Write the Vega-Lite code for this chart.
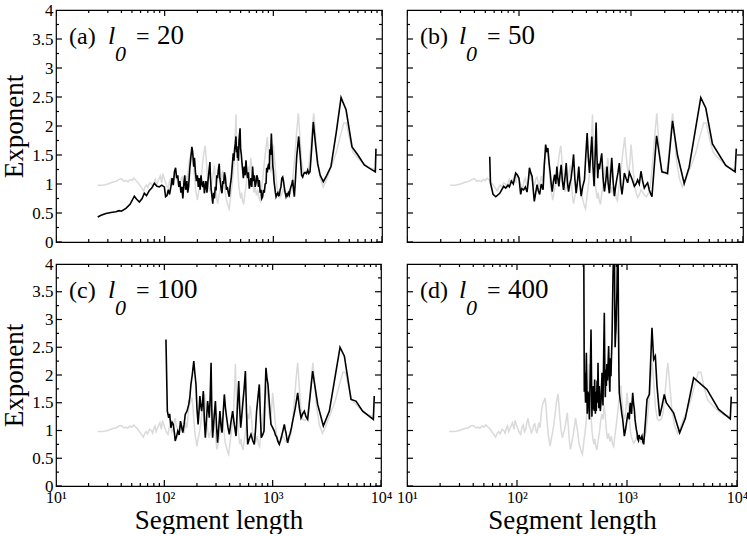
{
"$schema": "https://vega.github.io/schema/vega-lite/v6.json",
"padding": {"left": 0, "top": 0, "right": 4, "bottom": 0},
"config": {
  "view": {"stroke": "black", "strokeWidth": 1.2},
  "font": "Liberation Serif",
  "axis": {"ticks": false, "tickSize": 0, "offset": 0, "labelFont": "Liberation Serif", "titleFont": "Liberation Serif", "titleFontWeight": "normal", "labelColor": "black", "titleColor": "black", "domain": false, "grid": false, "labelOverlap": false, "labelFlush": false, "titleFontSize": 27},
  "tick": {"thickness": 1.2, "color": "black", "opacity": 1},
  "text": {"font": "Liberation Serif", "color": "black"}
},
"datasets": {
"yt": [{"v":0,"k":"major"},{"v":0.25,"k":"minor"},{"v":0.5,"k":"major"},{"v":0.75,"k":"minor"},{"v":1,"k":"major"},{"v":1.25,"k":"minor"},{"v":1.5,"k":"major"},{"v":1.75,"k":"minor"},{"v":2,"k":"major"},{"v":2.25,"k":"minor"},{"v":2.5,"k":"major"},{"v":2.75,"k":"minor"},{"v":3,"k":"major"},{"v":3.25,"k":"minor"},{"v":3.5,"k":"major"},{"v":3.75,"k":"minor"},{"v":4,"k":"major"}],
"xt": [{"v":10,"k":"major"},{"v":20,"k":"minor"},{"v":30,"k":"minor"},{"v":40,"k":"minor"},{"v":50,"k":"minor"},{"v":60,"k":"minor"},{"v":70,"k":"minor"},{"v":80,"k":"minor"},{"v":90,"k":"minor"},{"v":100,"k":"major"},{"v":200,"k":"minor"},{"v":300,"k":"minor"},{"v":400,"k":"minor"},{"v":500,"k":"minor"},{"v":600,"k":"minor"},{"v":700,"k":"minor"},{"v":800,"k":"minor"},{"v":900,"k":"minor"},{"v":1000,"k":"major"},{"v":2000,"k":"minor"},{"v":3000,"k":"minor"},{"v":4000,"k":"minor"},{"v":5000,"k":"minor"},{"v":6000,"k":"minor"},{"v":7000,"k":"minor"},{"v":8000,"k":"minor"},{"v":9000,"k":"minor"},{"v":10000,"k":"major"}],
"gray": [
{"len":24.2,"exp":0.98},{"len":27,"exp":0.98},{"len":30,"exp":1.0},{"len":33,"exp":1.03},{"len":36,"exp":1.05},{"len":38,"exp":1.08},{"len":40,"exp":1.09},{"len":42,"exp":1.05},{"len":44,"exp":1.06},{"len":46,"exp":1.04},{"len":48,"exp":1.08},{"len":50,"exp":1.06},{"len":52,"exp":1.1},{"len":54,"exp":1.07},{"len":56,"exp":1.04},{"len":58,"exp":1.0},{"len":60,"exp":0.96},{"len":62,"exp":0.92},{"len":64,"exp":0.88},{"len":66,"exp":0.95},{"len":68,"exp":0.98},{"len":70,"exp":0.94},{"len":73,"exp":1.02},{"len":76,"exp":1.0},{"len":78,"exp":0.95},{"len":80,"exp":1.04},{"len":82,"exp":1.08},{"len":84,"exp":0.98},{"len":86,"exp":1.03},{"len":89,"exp":1.1},{"len":91,"exp":1.14},{"len":94,"exp":1.02},{"len":96,"exp":1.18},{"len":99,"exp":1.1},{"len":101,"exp":1.05},{"len":105,"exp":0.96},{"len":108,"exp":0.93},{"len":111,"exp":1.06},{"len":114,"exp":1.1},{"len":117,"exp":0.98},{"len":120,"exp":1.02},{"len":123,"exp":1.15},{"len":126,"exp":1.22},{"len":129,"exp":1.08},{"len":132,"exp":1.05},{"len":135,"exp":0.96},{"len":138,"exp":0.99},{"len":142,"exp":1.1},{"len":145,"exp":1.12},{"len":149,"exp":1.0},{"len":152,"exp":0.95},{"len":155,"exp":1.05},{"len":158,"exp":1.14},{"len":162,"exp":1.05},{"len":166,"exp":1.3},{"len":170,"exp":1.45},{"len":173,"exp":1.5},{"len":177,"exp":1.55},{"len":180,"exp":1.59},{"len":184,"exp":1.4},{"len":187,"exp":1.2},{"len":190,"exp":1.05},{"len":193,"exp":0.9},{"len":197,"exp":0.8},{"len":200,"exp":0.72},{"len":205,"exp":0.85},{"len":210,"exp":0.95},{"len":216,"exp":1.1},{"len":222,"exp":1.3},{"len":228,"exp":1.5},{"len":236,"exp":1.66},{"len":241,"exp":1.45},{"len":246,"exp":1.2},{"len":252,"exp":1.0},{"len":258,"exp":0.87},{"len":264,"exp":0.95},{"len":270,"exp":1.0},{"len":278,"exp":1.15},{"len":287,"exp":1.32},{"len":292,"exp":1.1},{"len":297,"exp":0.9},{"len":302,"exp":0.75},{"len":307,"exp":0.66},{"len":315,"exp":0.78},{"len":323,"exp":0.9},{"len":332,"exp":1.05},{"len":341,"exp":1.23},{"len":348,"exp":1.1},{"len":355,"exp":1.0},{"len":360,"exp":0.88},{"len":365,"exp":0.78},{"len":372,"exp":0.72},{"len":380,"exp":0.65},{"len":387,"exp":0.6},{"len":393,"exp":0.57},{"len":400,"exp":0.7},{"len":408,"exp":0.85},{"len":415,"exp":0.95},{"len":425,"exp":1.15},{"len":436,"exp":1.38},{"len":445,"exp":1.8},{"len":453,"exp":2.2},{"len":460,"exp":1.7},{"len":470,"exp":1.3},{"len":480,"exp":1.0},{"len":490,"exp":0.85},{"len":500,"exp":0.75},{"len":510,"exp":0.85},{"len":520,"exp":0.72},{"len":533,"exp":0.65},{"len":545,"exp":0.8},{"len":560,"exp":0.95},{"len":575,"exp":1.15},{"len":590,"exp":1.3},{"len":605,"exp":1.2},{"len":620,"exp":1.45},{"len":635,"exp":1.26},{"len":650,"exp":1.0},{"len":665,"exp":0.85},{"len":680,"exp":0.95},{"len":700,"exp":0.8},{"len":720,"exp":0.9},{"len":740,"exp":0.75},{"len":757,"exp":0.71},{"len":775,"exp":0.9},{"len":800,"exp":1.1},{"len":820,"exp":1.3},{"len":840,"exp":1.5},{"len":860,"exp":1.65},{"len":880,"exp":1.81},{"len":900,"exp":1.55},{"len":925,"exp":1.3},{"len":950,"exp":1.2},{"len":975,"exp":1.35},{"len":1000,"exp":1.68},{"len":1020,"exp":1.5},{"len":1050,"exp":1.2},{"len":1080,"exp":0.95},{"len":1110,"exp":0.85},{"len":1149,"exp":0.77},{"len":1190,"exp":0.82},{"len":1230,"exp":0.9},{"len":1280,"exp":0.85},{"len":1330,"exp":0.8},{"len":1380,"exp":0.78},{"len":1430,"exp":0.85},{"len":1480,"exp":0.95},{"len":1530,"exp":1.2},{"len":1580,"exp":1.5},{"len":1640,"exp":1.9},{"len":1700,"exp":2.22},{"len":1760,"exp":1.8},{"len":1820,"exp":1.4},{"len":1890,"exp":1.2},{"len":1960,"exp":1.18},{"len":2040,"exp":1.2},{"len":2120,"exp":1.3},{"len":2200,"exp":1.6},{"len":2280,"exp":1.95},{"len":2350,"exp":2.22},{"len":2430,"exp":1.9},{"len":2550,"exp":1.4},{"len":2700,"exp":1.1},{"len":2880,"exp":0.95},{"len":3050,"exp":1.05},{"len":3250,"exp":1.2},{"len":3500,"exp":1.35},{"len":3800,"exp":1.55},{"len":4100,"exp":1.8},{"len":4450,"exp":2.05},{"len":4700,"exp":2.05},{"len":5000,"exp":1.8},{"len":5400,"exp":1.55},{"len":6000,"exp":1.45},{"len":6800,"exp":1.35},{"len":7600,"exp":1.28},{"len":8700,"exp":1.25}
],
"a": [
{"len":24.2,"exp":0.43},{"len":26,"exp":0.46},{"len":28.8,"exp":0.49},{"len":32,"exp":0.51},{"len":35.6,"exp":0.52},{"len":38,"exp":0.54},{"len":40,"exp":0.53},{"len":44,"exp":0.58},{"len":48,"exp":0.65},{"len":52.6,"exp":0.79},{"len":55,"exp":0.74},{"len":58.5,"exp":0.69},{"len":62,"exp":0.75},{"len":65,"exp":0.84},{"len":68,"exp":0.8},{"len":72.3,"exp":0.89},{"len":76,"exp":0.93},{"len":80.4,"exp":1.01},{"len":85,"exp":0.96},{"len":89.3,"exp":0.95},{"len":94,"exp":0.98},{"len":99.3,"exp":0.95},{"len":102,"exp":0.78},{"len":105,"exp":0.8},{"len":108,"exp":0.9},{"len":111,"exp":0.82},{"len":114,"exp":0.95},{"len":117,"exp":1.1},{"len":120,"exp":0.98},{"len":123,"exp":1.21},{"len":126,"exp":1.28},{"len":129,"exp":1.1},{"len":132,"exp":1.15},{"len":135,"exp":0.95},{"len":138,"exp":1.05},{"len":141,"exp":0.85},{"len":144,"exp":0.95},{"len":147,"exp":0.75},{"len":150,"exp":1.0},{"len":153,"exp":1.15},{"len":156,"exp":0.9},{"len":160,"exp":1.05},{"len":163,"exp":0.85},{"len":166,"exp":0.95},{"len":170,"exp":1.25},{"len":174,"exp":1.45},{"len":178,"exp":1.64},{"len":181,"exp":1.55},{"len":185,"exp":1.3},{"len":188,"exp":1.45},{"len":192,"exp":1.2},{"len":196,"exp":1.05},{"len":200,"exp":1.15},{"len":204,"exp":0.95},{"len":208,"exp":1.1},{"len":212,"exp":0.9},{"len":216,"exp":1.15},{"len":220,"exp":1.0},{"len":224,"exp":0.95},{"len":228,"exp":1.05},{"len":232,"exp":0.84},{"len":236,"exp":0.95},{"len":240,"exp":1.05},{"len":245,"exp":0.85},{"len":249,"exp":1.01},{"len":255,"exp":1.2},{"len":261,"exp":1.38},{"len":264,"exp":1.1},{"len":268,"exp":0.9},{"len":272,"exp":0.8},{"len":277,"exp":0.66},{"len":282,"exp":0.85},{"len":287,"exp":0.75},{"len":292,"exp":0.95},{"len":297,"exp":0.89},{"len":302,"exp":1.15},{"len":307,"exp":1.1},{"len":312,"exp":1.25},{"len":318,"exp":1.35},{"len":322,"exp":1.1},{"len":327,"exp":1.0},{"len":332,"exp":0.9},{"len":337,"exp":0.84},{"len":343,"exp":1.05},{"len":349,"exp":1.0},{"len":355,"exp":1.2},{"len":362,"exp":1.12},{"len":370,"exp":0.9},{"len":377,"exp":0.95},{"len":385,"exp":0.85},{"len":393,"exp":0.78},{"len":400,"exp":0.95},{"len":410,"exp":1.1},{"len":418,"exp":1.3},{"len":428,"exp":1.53},{"len":434,"exp":1.4},{"len":440,"exp":1.6},{"len":447,"exp":1.7},{"len":453,"exp":1.82},{"len":458,"exp":1.55},{"len":463,"exp":1.65},{"len":468,"exp":1.45},{"len":473,"exp":1.59},{"len":478,"exp":1.4},{"len":483,"exp":1.75},{"len":494,"exp":1.96},{"len":500,"exp":1.6},{"len":508,"exp":1.5},{"len":515,"exp":1.35},{"len":522,"exp":1.24},{"len":530,"exp":1.1},{"len":540,"exp":1.3},{"len":550,"exp":1.15},{"len":560,"exp":1.41},{"len":570,"exp":1.2},{"len":580,"exp":1.1},{"len":590,"exp":1.2},{"len":601,"exp":0.92},{"len":611,"exp":1.0},{"len":622,"exp":1.1},{"len":633,"exp":0.95},{"len":645,"exp":1.3},{"len":656,"exp":1.05},{"len":668,"exp":1.15},{"len":680,"exp":0.95},{"len":692,"exp":1.01},{"len":705,"exp":1.15},{"len":718,"exp":1.1},{"len":730,"exp":0.95},{"len":743,"exp":1.07},{"len":756,"exp":0.85},{"len":770,"exp":0.9},{"len":783,"exp":0.75},{"len":797,"exp":0.78},{"len":811,"exp":0.9},{"len":826,"exp":0.85},{"len":841,"exp":1.0},{"len":857,"exp":1.01},{"len":868,"exp":1.28},{"len":880,"exp":1.2},{"len":893,"exp":1.3},{"len":906,"exp":1.35},{"len":918,"exp":1.25},{"len":930,"exp":1.6},{"len":944,"exp":1.5},{"len":959,"exp":1.87},{"len":970,"exp":1.65},{"len":980,"exp":1.5},{"len":990,"exp":1.3},{"len":1000,"exp":1.24},{"len":1015,"exp":1.05},{"len":1030,"exp":0.95},{"len":1045,"exp":0.85},{"len":1059,"exp":0.78},{"len":1080,"exp":0.82},{"len":1100,"exp":0.85},{"len":1118,"exp":0.8},{"len":1136,"exp":0.81},{"len":1155,"exp":0.9},{"len":1175,"exp":0.95},{"len":1197,"exp":1.1},{"len":1219,"exp":1.12},{"len":1240,"exp":1.05},{"len":1260,"exp":0.95},{"len":1285,"exp":0.85},{"len":1309,"exp":0.78},{"len":1330,"exp":0.82},{"len":1350,"exp":0.8},{"len":1375,"exp":0.85},{"len":1403,"exp":0.81},{"len":1425,"exp":0.9},{"len":1450,"exp":0.95},{"len":1480,"exp":1.0},{"len":1507,"exp":1.07},{"len":1535,"exp":0.9},{"len":1561,"exp":0.78},{"len":1600,"exp":1.1},{"len":1641,"exp":1.47},{"len":1711,"exp":1.82},{"len":1780,"exp":1.4},{"len":1820,"exp":1.15},{"len":1862,"exp":1.12},{"len":1910,"exp":1.18},{"len":1960,"exp":1.2},{"len":2020,"exp":1.18},{"len":2071,"exp":1.24},{"len":2120,"exp":1.18},{"len":2175,"exp":1.21},{"len":2250,"exp":1.6},{"len":2333,"exp":2.07},{"len":2440,"exp":1.7},{"len":2558,"exp":1.35},{"len":2700,"exp":1.15},{"len":2884,"exp":1.04},{"len":3100,"exp":1.15},{"len":3390,"exp":1.3},{"len":3800,"exp":1.9},{"len":4200,"exp":2.49},{"len":4670,"exp":2.28},{"len":5300,"exp":1.64},{"len":6000,"exp":1.5},{"len":6870,"exp":1.33},{"len":7700,"exp":1.27},{"len":8680,"exp":1.21},{"len":8800,"exp":1.61}
],
"b": [
{"len":54.8,"exp":1.47},{"len":55.6,"exp":1.02},{"len":58.7,"exp":0.82},{"len":62,"exp":0.78},{"len":67.3,"exp":0.84},{"len":73,"exp":0.96},{"len":76,"exp":0.93},{"len":79.8,"exp":0.98},{"len":82,"exp":0.95},{"len":85.5,"exp":1.05},{"len":89,"exp":1.0},{"len":93.4,"exp":1.19},{"len":97,"exp":1.15},{"len":100,"exp":1.1},{"len":103.5,"exp":0.82},{"len":106,"exp":0.92},{"len":110,"exp":0.9},{"len":114,"exp":0.95},{"len":118,"exp":0.86},{"len":121,"exp":1.05},{"len":124,"exp":1.28},{"len":127,"exp":1.2},{"len":131,"exp":1.13},{"len":134,"exp":0.9},{"len":137,"exp":0.7},{"len":141,"exp":0.85},{"len":145,"exp":0.99},{"len":149,"exp":0.88},{"len":153,"exp":0.82},{"len":158,"exp":1.0},{"len":164,"exp":0.9},{"len":168,"exp":1.3},{"len":173,"exp":1.68},{"len":177,"exp":1.55},{"len":181,"exp":1.62},{"len":186,"exp":1.35},{"len":190,"exp":1.19},{"len":194,"exp":1.0},{"len":198,"exp":0.87},{"len":203,"exp":1.05},{"len":208,"exp":1.16},{"len":213,"exp":1.0},{"len":218,"exp":1.3},{"len":222,"exp":1.1},{"len":227,"exp":0.96},{"len":232,"exp":1.15},{"len":238,"exp":1.33},{"len":244,"exp":1.05},{"len":250,"exp":0.9},{"len":257,"exp":1.1},{"len":264,"exp":1.36},{"len":270,"exp":1.05},{"len":277,"exp":0.87},{"len":284,"exp":1.0},{"len":292,"exp":1.1},{"len":300,"exp":1.3},{"len":307,"exp":1.51},{"len":315,"exp":1.1},{"len":324,"exp":0.84},{"len":333,"exp":1.05},{"len":342,"exp":1.3},{"len":350,"exp":1.0},{"len":359,"exp":0.79},{"len":370,"exp":0.95},{"len":384,"exp":1.07},{"len":395,"exp":1.5},{"len":406,"exp":1.88},{"len":416,"exp":1.45},{"len":426,"exp":1.19},{"len":436,"exp":1.5},{"len":447,"exp":1.82},{"len":458,"exp":1.3},{"len":468,"exp":0.96},{"len":478,"exp":1.45},{"len":488,"exp":2.06},{"len":496,"exp":1.5},{"len":505,"exp":1.1},{"len":513,"exp":1.35},{"len":522,"exp":1.25},{"len":535,"exp":1.4},{"len":548,"exp":1.53},{"len":563,"exp":1.1},{"len":579,"exp":0.87},{"len":595,"exp":1.05},{"len":611,"exp":1.3},{"len":626,"exp":1.0},{"len":641,"exp":0.84},{"len":657,"exp":1.15},{"len":673,"exp":1.45},{"len":692,"exp":1.05},{"len":711,"exp":0.79},{"len":728,"exp":0.95},{"len":745,"exp":1.07},{"len":766,"exp":1.2},{"len":787,"exp":1.36},{"len":809,"exp":1.0},{"len":831,"exp":0.82},{"len":852,"exp":1.0},{"len":873,"exp":1.19},{"len":903,"exp":1.1},{"len":934,"exp":1.02},{"len":967,"exp":1.2},{"len":1000,"exp":1.13},{"len":1035,"exp":1.05},{"len":1071,"exp":0.96},{"len":1108,"exp":1.0},{"len":1146,"exp":1.07},{"len":1186,"exp":1.0},{"len":1228,"exp":1.22},{"len":1270,"exp":1.05},{"len":1315,"exp":0.93},{"len":1360,"exp":0.98},{"len":1407,"exp":1.02},{"len":1455,"exp":0.9},{"len":1507,"exp":0.82},{"len":1538,"exp":0.78},{"len":1692,"exp":1.83},{"len":1888,"exp":1.21},{"len":2000,"exp":1.2},{"len":2120,"exp":1.18},{"len":2349,"exp":2.09},{"len":2600,"exp":1.5},{"len":2985,"exp":1.01},{"len":3305,"exp":1.29},{"len":4198,"exp":2.49},{"len":4652,"exp":2.31},{"len":5335,"exp":1.69},{"len":7010,"exp":1.32},{"len":8500,"exp":1.21},{"len":8716,"exp":1.61}
],
"c": [
{"len":103.5,"exp":2.64},{"len":106.6,"exp":1.35},{"len":109.7,"exp":1.23},{"len":112,"exp":1.3},{"len":115,"exp":1.05},{"len":118,"exp":1.15},{"len":121,"exp":1.11},{"len":124,"exp":0.95},{"len":126,"exp":0.81},{"len":130,"exp":0.9},{"len":133,"exp":0.99},{"len":137,"exp":0.92},{"len":141,"exp":1.17},{"len":145,"exp":1.05},{"len":148,"exp":0.96},{"len":152,"exp":1.1},{"len":156,"exp":1.29},{"len":162,"exp":1.35},{"len":168,"exp":1.47},{"len":172,"exp":1.6},{"len":176,"exp":1.83},{"len":181,"exp":2.0},{"len":187,"exp":2.25},{"len":191,"exp":2.05},{"len":196,"exp":1.83},{"len":200,"exp":1.4},{"len":205,"exp":1.11},{"len":209,"exp":1.35},{"len":213,"exp":1.62},{"len":217,"exp":1.45},{"len":221,"exp":1.35},{"len":225,"exp":1.5},{"len":229,"exp":1.71},{"len":234,"exp":1.2},{"len":239,"exp":0.87},{"len":245,"exp":1.2},{"len":251,"exp":1.53},{"len":255,"exp":1.4},{"len":260,"exp":1.23},{"len":265,"exp":1.6},{"len":270,"exp":2.22},{"len":274,"exp":1.4},{"len":279,"exp":0.87},{"len":287,"exp":1.2},{"len":296,"exp":1.53},{"len":303,"exp":1.1},{"len":310,"exp":0.78},{"len":318,"exp":1.05},{"len":326,"exp":1.35},{"len":333,"exp":1.1},{"len":341,"exp":0.96},{"len":349,"exp":1.3},{"len":358,"exp":1.65},{"len":367,"exp":1.4},{"len":376,"exp":1.23},{"len":387,"exp":1.05},{"len":398,"exp":0.93},{"len":412,"exp":1.15},{"len":427,"exp":1.35},{"len":443,"exp":1.1},{"len":459,"exp":0.9},{"len":472,"exp":1.4},{"len":486,"exp":1.89},{"len":496,"exp":1.4},{"len":507,"exp":1.05},{"len":518,"exp":1.25},{"len":529,"exp":1.47},{"len":545,"exp":1.75},{"len":560,"exp":2.07},{"len":574,"exp":1.3},{"len":588,"exp":0.75},{"len":609,"exp":0.85},{"len":631,"exp":0.93},{"len":654,"exp":0.82},{"len":677,"exp":0.75},{"len":694,"exp":1.0},{"len":711,"exp":1.35},{"len":732,"exp":1.6},{"len":753,"exp":1.83},{"len":769,"exp":1.3},{"len":785,"exp":0.87},{"len":808,"exp":0.92},{"len":832,"exp":0.99},{"len":850,"exp":1.6},{"len":867,"exp":2.13},{"len":885,"exp":1.95},{"len":905,"exp":1.83},{"len":935,"exp":1.45},{"len":965,"exp":1.11},{"len":1000,"exp":1.05},{"len":1036,"exp":0.99},{"len":1060,"exp":0.92},{"len":1090,"exp":0.88},{"len":1120,"exp":0.8},{"len":1152,"exp":0.75},{"len":1180,"exp":0.82},{"len":1210,"exp":0.9},{"len":1245,"exp":1.0},{"len":1282,"exp":1.11},{"len":1305,"exp":1.02},{"len":1330,"exp":0.95},{"len":1352,"exp":0.85},{"len":1375,"exp":0.78},{"len":1410,"exp":0.88},{"len":1450,"exp":0.95},{"len":1490,"exp":1.05},{"len":1530,"exp":1.17},{"len":1615,"exp":1.4},{"len":1702,"exp":1.68},{"len":1765,"exp":1.4},{"len":1828,"exp":1.23},{"len":1890,"exp":1.3},{"len":1960,"exp":1.35},{"len":2030,"exp":1.25},{"len":2104,"exp":1.2},{"len":2339,"exp":2.07},{"len":2603,"exp":1.47},{"len":2936,"exp":1.08},{"len":3336,"exp":1.35},{"len":4186,"exp":2.5},{"len":4592,"exp":2.34},{"len":5287,"exp":1.56},{"len":5876,"exp":1.53},{"len":6771,"exp":1.35},{"len":8497,"exp":1.2},{"len":8670,"exp":1.62}
],
"d": [
{"len":404,"exp":4.6},{"len":409,"exp":1.7},{"len":412,"exp":2.04},{"len":416,"exp":1.8},{"len":420,"exp":1.5},{"len":424,"exp":2.0},{"len":427,"exp":2.4},{"len":431,"exp":1.9},{"len":435,"exp":1.3},{"len":441,"exp":1.7},{"len":448,"exp":1.62},{"len":452,"exp":1.4},{"len":455,"exp":1.2},{"len":463,"exp":2.0},{"len":471,"exp":2.82},{"len":476,"exp":1.9},{"len":480,"exp":1.25},{"len":484,"exp":1.6},{"len":488,"exp":1.38},{"len":494,"exp":1.8},{"len":500,"exp":1.6},{"len":504,"exp":1.35},{"len":508,"exp":1.92},{"len":512,"exp":1.55},{"len":516,"exp":1.3},{"len":521,"exp":1.7},{"len":526,"exp":1.35},{"len":530,"exp":1.6},{"len":535,"exp":1.9},{"len":540,"exp":1.5},{"len":545,"exp":2.22},{"len":550,"exp":1.7},{"len":555,"exp":1.4},{"len":560,"exp":1.8},{"len":564,"exp":1.62},{"len":572,"exp":1.35},{"len":580,"exp":1.5},{"len":587,"exp":1.8},{"len":593,"exp":2.04},{"len":599,"exp":1.7},{"len":605,"exp":1.45},{"len":613,"exp":2.3},{"len":622,"exp":3.12},{"len":628,"exp":2.2},{"len":635,"exp":1.6},{"len":642,"exp":2.1},{"len":649,"exp":1.8},{"len":657,"exp":2.2},{"len":665,"exp":1.9},{"len":673,"exp":2.2},{"len":681,"exp":2.52},{"len":690,"exp":2.0},{"len":698,"exp":1.7},{"len":706,"exp":2.3},{"len":715,"exp":1.98},{"len":722,"exp":2.3},{"len":730,"exp":2.6},{"len":738,"exp":3.2},{"len":746,"exp":3.78},{"len":756,"exp":4.3},{"len":767,"exp":4.6},{"len":774,"exp":3.2},{"len":780,"exp":2.5},{"len":787,"exp":2.7},{"len":794,"exp":2.82},{"len":802,"exp":3.2},{"len":810,"exp":3.5},{"len":819,"exp":4.2},{"len":828,"exp":4.6},{"len":836,"exp":3.0},{"len":845,"exp":2.0},{"len":851,"exp":1.68},{"len":866,"exp":1.55},{"len":881,"exp":1.44},{"len":897,"exp":1.3},{"len":914,"exp":1.2},{"len":930,"exp":1.05},{"len":946,"exp":0.9},{"len":963,"exp":0.98},{"len":980,"exp":1.08},{"len":1000,"exp":1.2},{"len":1021,"exp":1.32},{"len":1035,"exp":1.25},{"len":1050,"exp":1.2},{"len":1061,"exp":1.4},{"len":1072,"exp":1.5},{"len":1086,"exp":1.38},{"len":1100,"exp":1.3},{"len":1113,"exp":1.5},{"len":1127,"exp":1.68},{"len":1146,"exp":1.5},{"len":1166,"exp":1.38},{"len":1183,"exp":1.2},{"len":1200,"exp":1.1},{"len":1216,"exp":1.02},{"len":1233,"exp":0.96},{"len":1250,"exp":0.85},{"len":1270,"exp":0.82},{"len":1287,"exp":0.92},{"len":1304,"exp":0.87},{"len":1336,"exp":0.85},{"len":1368,"exp":0.9},{"len":1393,"exp":0.8},{"len":1418,"exp":0.75},{"len":1470,"exp":1.15},{"len":1520,"exp":1.56},{"len":1596,"exp":1.65},{"len":1687,"exp":2.85},{"len":1747,"exp":2.28},{"len":1810,"exp":2.34},{"len":1874,"exp":1.8},{"len":1981,"exp":1.26},{"len":2079,"exp":1.44},{"len":2183,"exp":1.65},{"len":2277,"exp":1.5},{"len":2652,"exp":1.32},{"len":3010,"exp":0.96},{"len":3390,"exp":1.22},{"len":4036,"exp":1.95},{"len":5333,"exp":1.74},{"len":6810,"exp":1.38},{"len":8690,"exp":1.21},{"len":8870,"exp":1.61}
]
},
"spacing": 3,
"vconcat": [
{"spacing": 25, "bounds": "flush", "hconcat": [
{"width": 326, "height": 232,
 "resolve": {"axis": {"x": "independent", "y": "independent"}},
 "layer": [
  {"data": {"name": "gray"}, "mark": {"type": "line", "color": "#dadada", "strokeWidth": 1.5, "clip": true},
   "encoding": {
    "x": {"field": "len", "type": "quantitative", "scale": {"type": "log", "domain": [10, 10000], "nice": false}, "axis": null},
    "y": {"field": "exp", "type": "quantitative", "scale": {"domain": [0, 4], "nice": false, "zero": false}, "axis": {"orient": "left", "values": [0, 0.5, 1, 1.5, 2, 2.5, 3, 3.5, 4], "ticks": false, "tickSize": 0, "offset": 0, "format": "~g", "labelFont": "Liberation Serif", "labelFontSize": 17, "labelPadding": 3, "title": "Exponent", "titlePadding": 3}}}},
  {"data": {"name": "a"}, "mark": {"type": "line", "color": "black", "strokeWidth": 1.6, "clip": true},
   "encoding": {"x": {"field": "len", "type": "quantitative", "axis": null}, "y": {"field": "exp", "type": "quantitative", "axis": null}}},
  {"data": {"values": [{}]}, "mark": {"type": "text", "text": "(a)", "font": "Liberation Serif", "fontSize": 24, "align": "left", "baseline": "alphabetic"},
   "encoding": {"x": {"datum": 13.17, "type": "quantitative", "axis": null}, "y": {"datum": 3.41, "type": "quantitative", "axis": null}}},
  {"data": {"values": [{}]}, "mark": {"type": "text", "text": "l", "font": "Liberation Serif", "fontSize": 26, "fontStyle": "italic", "align": "left", "baseline": "alphabetic"},
   "encoding": {"x": {"datum": 30.1, "type": "quantitative", "axis": null}, "y": {"datum": 3.41, "type": "quantitative", "axis": null}}},
  {"data": {"values": [{}]}, "mark": {"type": "text", "text": "0", "font": "Liberation Serif", "fontSize": 22, "fontStyle": "italic", "align": "left", "baseline": "alphabetic"},
   "encoding": {"x": {"datum": 34.9, "type": "quantitative", "axis": null}, "y": {"datum": 3.12, "type": "quantitative", "axis": null}}},
  {"data": {"values": [{}]}, "mark": {"type": "text", "text": "=", "font": "Liberation Serif", "fontSize": 24, "align": "left", "baseline": "alphabetic"},
   "encoding": {"x": {"datum": 54.5, "type": "quantitative", "axis": null}, "y": {"datum": 3.41, "type": "quantitative", "axis": null}}},
  {"data": {"values": [{}]}, "mark": {"type": "text", "text": "20", "font": "Liberation Serif", "fontSize": 27, "align": "left", "baseline": "alphabetic"},
   "encoding": {"x": {"datum": 84.9, "type": "quantitative", "axis": null}, "y": {"datum": 3.41, "type": "quantitative", "axis": null}}},
  {"data": {"name": "yt"}, "mark": {"type": "tick", "orient": "horizontal", "clip": true},
   "encoding": {"y": {"field": "v", "type": "quantitative", "axis": null}, "x": {"datum": 10, "type": "quantitative", "axis": null}, "size": {"field": "k", "type": "nominal", "scale": {"domain": ["major", "minor"], "range": [12, 6]}, "legend": null}}},
  {"data": {"name": "yt"}, "mark": {"type": "tick", "orient": "horizontal", "clip": true},
   "encoding": {"y": {"field": "v", "type": "quantitative", "axis": null}, "x": {"datum": 10000, "type": "quantitative", "axis": null}, "size": {"field": "k", "type": "nominal", "legend": null}}},
  {"data": {"name": "xt"}, "mark": {"type": "tick", "orient": "vertical", "clip": true},
   "encoding": {"x": {"field": "v", "type": "quantitative", "axis": null}, "y": {"datum": 0, "type": "quantitative", "axis": null}, "size": {"field": "k", "type": "nominal", "legend": null}}},
  {"data": {"name": "xt"}, "mark": {"type": "tick", "orient": "vertical", "clip": true},
   "encoding": {"x": {"field": "v", "type": "quantitative", "axis": null}, "y": {"datum": 4, "type": "quantitative", "axis": null}, "size": {"field": "k", "type": "nominal", "legend": null}}}
 ]},
{"width": 336, "height": 232,
 "resolve": {"axis": {"x": "independent", "y": "independent"}},
 "layer": [
  {"data": {"name": "gray"}, "mark": {"type": "line", "color": "#dadada", "strokeWidth": 1.5, "clip": true},
   "encoding": {
    "x": {"field": "len", "type": "quantitative", "scale": {"type": "log", "domain": [10, 10000], "nice": false}, "axis": null},
    "y": {"field": "exp", "type": "quantitative", "scale": {"domain": [0, 4], "nice": false, "zero": false}, "axis": null}}},
  {"data": {"name": "b"}, "mark": {"type": "line", "color": "black", "strokeWidth": 1.6, "clip": true},
   "encoding": {"x": {"field": "len", "type": "quantitative", "axis": null}, "y": {"field": "exp", "type": "quantitative", "axis": null}}},
  {"data": {"values": [{}]}, "mark": {"type": "text", "text": "(b)", "font": "Liberation Serif", "fontSize": 24, "align": "left", "baseline": "alphabetic"},
   "encoding": {"x": {"datum": 13.06, "type": "quantitative", "axis": null}, "y": {"datum": 3.41, "type": "quantitative", "axis": null}}},
  {"data": {"values": [{}]}, "mark": {"type": "text", "text": "l", "font": "Liberation Serif", "fontSize": 26, "fontStyle": "italic", "align": "left", "baseline": "alphabetic"},
   "encoding": {"x": {"datum": 29.1, "type": "quantitative", "axis": null}, "y": {"datum": 3.41, "type": "quantitative", "axis": null}}},
  {"data": {"values": [{}]}, "mark": {"type": "text", "text": "0", "font": "Liberation Serif", "fontSize": 22, "fontStyle": "italic", "align": "left", "baseline": "alphabetic"},
   "encoding": {"x": {"datum": 33.7, "type": "quantitative", "axis": null}, "y": {"datum": 3.12, "type": "quantitative", "axis": null}}},
  {"data": {"values": [{}]}, "mark": {"type": "text", "text": "=", "font": "Liberation Serif", "fontSize": 24, "align": "left", "baseline": "alphabetic"},
   "encoding": {"x": {"datum": 51.8, "type": "quantitative", "axis": null}, "y": {"datum": 3.41, "type": "quantitative", "axis": null}}},
  {"data": {"values": [{}]}, "mark": {"type": "text", "text": "50", "font": "Liberation Serif", "fontSize": 27, "align": "left", "baseline": "alphabetic"},
   "encoding": {"x": {"datum": 79.8, "type": "quantitative", "axis": null}, "y": {"datum": 3.41, "type": "quantitative", "axis": null}}},
  {"data": {"name": "yt"}, "mark": {"type": "tick", "orient": "horizontal", "clip": true},
   "encoding": {"y": {"field": "v", "type": "quantitative", "axis": null}, "x": {"datum": 10, "type": "quantitative", "axis": null}, "size": {"field": "k", "type": "nominal", "scale": {"domain": ["major", "minor"], "range": [12, 6]}, "legend": null}}},
  {"data": {"name": "yt"}, "mark": {"type": "tick", "orient": "horizontal", "clip": true},
   "encoding": {"y": {"field": "v", "type": "quantitative", "axis": null}, "x": {"datum": 10000, "type": "quantitative", "axis": null}, "size": {"field": "k", "type": "nominal", "legend": null}}},
  {"data": {"name": "xt"}, "mark": {"type": "tick", "orient": "vertical", "clip": true},
   "encoding": {"x": {"field": "v", "type": "quantitative", "axis": null}, "y": {"datum": 0, "type": "quantitative", "axis": null}, "size": {"field": "k", "type": "nominal", "legend": null}}},
  {"data": {"name": "xt"}, "mark": {"type": "tick", "orient": "vertical", "clip": true},
   "encoding": {"x": {"field": "v", "type": "quantitative", "axis": null}, "y": {"datum": 4, "type": "quantitative", "axis": null}, "size": {"field": "k", "type": "nominal", "legend": null}}}
 ]}
]},
{"spacing": 26, "bounds": "flush", "hconcat": [
{"width": 325, "height": 222,
 "resolve": {"axis": {"x": "independent", "y": "independent"}},
 "layer": [
  {"data": {"name": "gray"}, "mark": {"type": "line", "color": "#dadada", "strokeWidth": 1.5, "clip": true},
   "encoding": {
    "x": {"field": "len", "type": "quantitative", "scale": {"type": "log", "domain": [10, 10000], "nice": false}, "axis": {"orient": "bottom", "values": [10, 100, 1000, 10000], "ticks": false, "tickSize": 0, "offset": 0, "labelFont": "Liberation Serif", "labelFontSize": 16, "labelPadding": 3, "labelExpr": "datum.value == 10 ? '10¹' : datum.value == 100 ? '10²' : datum.value == 1000 ? '10³' : '10⁴'", "title": "Segment length", "titlePadding": 2}},
    "y": {"field": "exp", "type": "quantitative", "scale": {"domain": [0, 4], "nice": false, "zero": false}, "axis": {"orient": "left", "values": [0, 0.5, 1, 1.5, 2, 2.5, 3, 3.5, 4], "ticks": false, "tickSize": 0, "offset": 0, "format": "~g", "labelFont": "Liberation Serif", "labelFontSize": 17, "labelPadding": 3, "title": "Exponent", "titlePadding": 3}}}},
  {"data": {"name": "c"}, "mark": {"type": "line", "color": "black", "strokeWidth": 1.6, "clip": true},
   "encoding": {"x": {"field": "len", "type": "quantitative", "axis": null}, "y": {"field": "exp", "type": "quantitative", "axis": null}}},
  {"data": {"values": [{}]}, "mark": {"type": "text", "text": "(c)", "font": "Liberation Serif", "fontSize": 24, "align": "left", "baseline": "alphabetic"},
   "encoding": {"x": {"datum": 13.18, "type": "quantitative", "axis": null}, "y": {"datum": 3.39, "type": "quantitative", "axis": null}}},
  {"data": {"values": [{}]}, "mark": {"type": "text", "text": "l", "font": "Liberation Serif", "fontSize": 26, "fontStyle": "italic", "align": "left", "baseline": "alphabetic"},
   "encoding": {"x": {"datum": 30.2, "type": "quantitative", "axis": null}, "y": {"datum": 3.39, "type": "quantitative", "axis": null}}},
  {"data": {"values": [{}]}, "mark": {"type": "text", "text": "0", "font": "Liberation Serif", "fontSize": 22, "fontStyle": "italic", "align": "left", "baseline": "alphabetic"},
   "encoding": {"x": {"datum": 35.0, "type": "quantitative", "axis": null}, "y": {"datum": 3.08, "type": "quantitative", "axis": null}}},
  {"data": {"values": [{}]}, "mark": {"type": "text", "text": "=", "font": "Liberation Serif", "fontSize": 24, "align": "left", "baseline": "alphabetic"},
   "encoding": {"x": {"datum": 54.8, "type": "quantitative", "axis": null}, "y": {"datum": 3.39, "type": "quantitative", "axis": null}}},
  {"data": {"values": [{}]}, "mark": {"type": "text", "text": "100", "font": "Liberation Serif", "fontSize": 27, "align": "left", "baseline": "alphabetic"},
   "encoding": {"x": {"datum": 85.5, "type": "quantitative", "axis": null}, "y": {"datum": 3.39, "type": "quantitative", "axis": null}}},
  {"data": {"name": "yt"}, "mark": {"type": "tick", "orient": "horizontal", "clip": true},
   "encoding": {"y": {"field": "v", "type": "quantitative", "axis": null}, "x": {"datum": 10, "type": "quantitative", "axis": null}, "size": {"field": "k", "type": "nominal", "scale": {"domain": ["major", "minor"], "range": [12, 6]}, "legend": null}}},
  {"data": {"name": "yt"}, "mark": {"type": "tick", "orient": "horizontal", "clip": true},
   "encoding": {"y": {"field": "v", "type": "quantitative", "axis": null}, "x": {"datum": 10000, "type": "quantitative", "axis": null}, "size": {"field": "k", "type": "nominal", "legend": null}}},
  {"data": {"name": "xt"}, "mark": {"type": "tick", "orient": "vertical", "clip": true},
   "encoding": {"x": {"field": "v", "type": "quantitative", "axis": null}, "y": {"datum": 0, "type": "quantitative", "axis": null}, "size": {"field": "k", "type": "nominal", "legend": null}}},
  {"data": {"name": "xt"}, "mark": {"type": "tick", "orient": "vertical", "clip": true},
   "encoding": {"x": {"field": "v", "type": "quantitative", "axis": null}, "y": {"datum": 4, "type": "quantitative", "axis": null}, "size": {"field": "k", "type": "nominal", "legend": null}}}
 ]},
{"width": 330, "height": 222,
 "resolve": {"axis": {"x": "independent", "y": "independent"}},
 "layer": [
  {"data": {"name": "gray"}, "mark": {"type": "line", "color": "#dadada", "strokeWidth": 1.5, "clip": true},
   "encoding": {
    "x": {"field": "len", "type": "quantitative", "scale": {"type": "log", "domain": [10, 10000], "nice": false}, "axis": {"orient": "bottom", "values": [10, 100, 1000, 10000], "ticks": false, "tickSize": 0, "offset": 0, "labelFont": "Liberation Serif", "labelFontSize": 16, "labelPadding": 3, "labelExpr": "datum.value == 10 ? '10¹' : datum.value == 100 ? '10²' : datum.value == 1000 ? '10³' : '10⁴'", "title": "Segment length", "titlePadding": 2}},
    "y": {"field": "exp", "type": "quantitative", "scale": {"domain": [0, 4], "nice": false, "zero": false}, "axis": null}}},
  {"data": {"name": "d"}, "mark": {"type": "line", "color": "black", "strokeWidth": 1.6, "clip": true},
   "encoding": {"x": {"field": "len", "type": "quantitative", "axis": null}, "y": {"field": "exp", "type": "quantitative", "axis": null}}},
  {"data": {"values": [{}]}, "mark": {"type": "text", "text": "(d)", "font": "Liberation Serif", "fontSize": 24, "align": "left", "baseline": "alphabetic"},
   "encoding": {"x": {"datum": 13.1, "type": "quantitative", "axis": null}, "y": {"datum": 3.39, "type": "quantitative", "axis": null}}},
  {"data": {"values": [{}]}, "mark": {"type": "text", "text": "l", "font": "Liberation Serif", "fontSize": 26, "fontStyle": "italic", "align": "left", "baseline": "alphabetic"},
   "encoding": {"x": {"datum": 29.7, "type": "quantitative", "axis": null}, "y": {"datum": 3.39, "type": "quantitative", "axis": null}}},
  {"data": {"values": [{}]}, "mark": {"type": "text", "text": "0", "font": "Liberation Serif", "fontSize": 22, "fontStyle": "italic", "align": "left", "baseline": "alphabetic"},
   "encoding": {"x": {"datum": 34.4, "type": "quantitative", "axis": null}, "y": {"datum": 3.08, "type": "quantitative", "axis": null}}},
  {"data": {"values": [{}]}, "mark": {"type": "text", "text": "=", "font": "Liberation Serif", "fontSize": 24, "align": "left", "baseline": "alphabetic"},
   "encoding": {"x": {"datum": 53.4, "type": "quantitative", "axis": null}, "y": {"datum": 3.39, "type": "quantitative", "axis": null}}},
  {"data": {"values": [{}]}, "mark": {"type": "text", "text": "400", "font": "Liberation Serif", "fontSize": 27, "align": "left", "baseline": "alphabetic"},
   "encoding": {"x": {"datum": 82.8, "type": "quantitative", "axis": null}, "y": {"datum": 3.39, "type": "quantitative", "axis": null}}},
  {"data": {"name": "yt"}, "mark": {"type": "tick", "orient": "horizontal", "clip": true},
   "encoding": {"y": {"field": "v", "type": "quantitative", "axis": null}, "x": {"datum": 10, "type": "quantitative", "axis": null}, "size": {"field": "k", "type": "nominal", "scale": {"domain": ["major", "minor"], "range": [12, 6]}, "legend": null}}},
  {"data": {"name": "yt"}, "mark": {"type": "tick", "orient": "horizontal", "clip": true},
   "encoding": {"y": {"field": "v", "type": "quantitative", "axis": null}, "x": {"datum": 10000, "type": "quantitative", "axis": null}, "size": {"field": "k", "type": "nominal", "legend": null}}},
  {"data": {"name": "xt"}, "mark": {"type": "tick", "orient": "vertical", "clip": true},
   "encoding": {"x": {"field": "v", "type": "quantitative", "axis": null}, "y": {"datum": 0, "type": "quantitative", "axis": null}, "size": {"field": "k", "type": "nominal", "legend": null}}},
  {"data": {"name": "xt"}, "mark": {"type": "tick", "orient": "vertical", "clip": true},
   "encoding": {"x": {"field": "v", "type": "quantitative", "axis": null}, "y": {"datum": 4, "type": "quantitative", "axis": null}, "size": {"field": "k", "type": "nominal", "legend": null}}}
 ]}
]}
]
}
